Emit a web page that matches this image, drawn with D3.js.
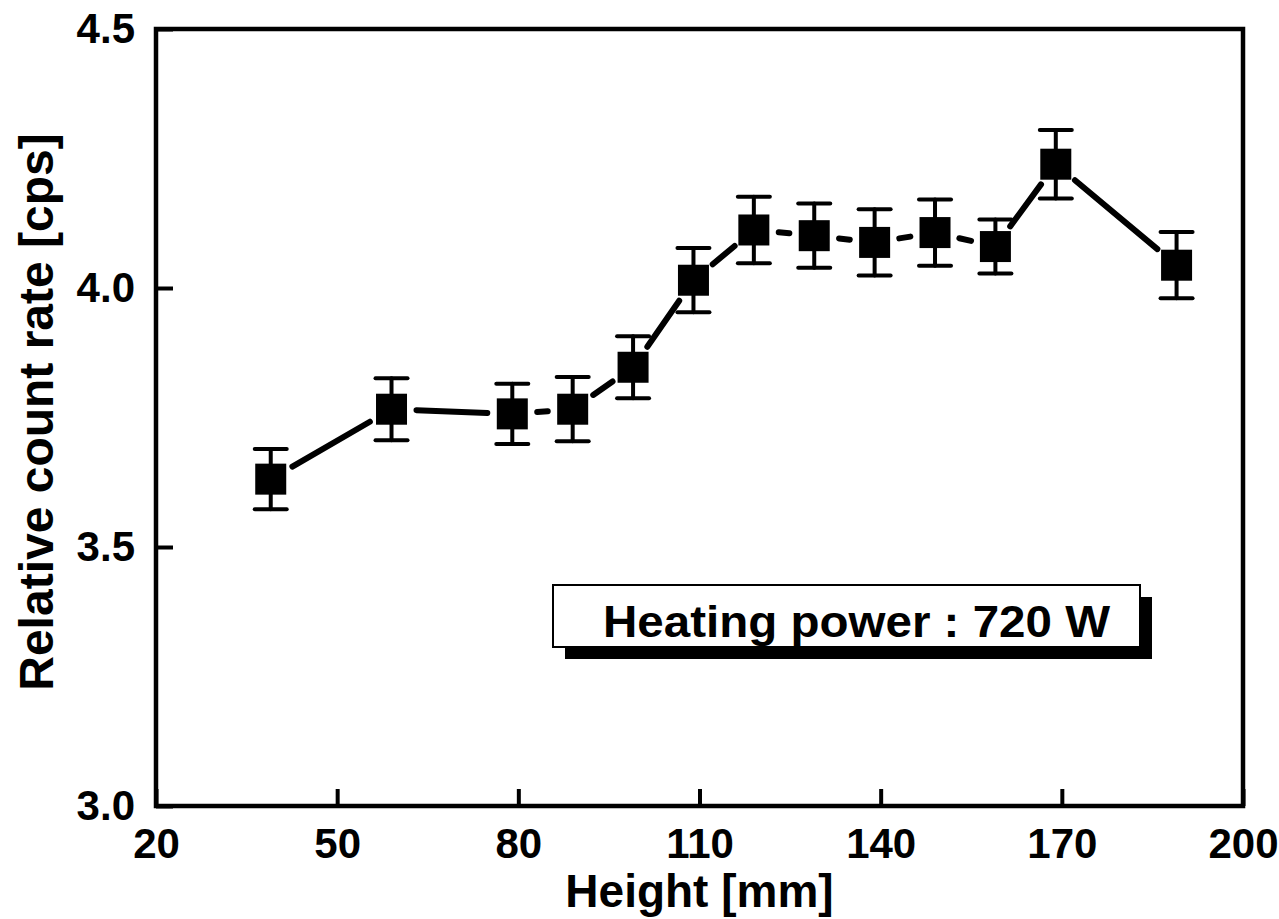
<!DOCTYPE html>
<html>
<head>
<meta charset="utf-8">
<script src="https://cdn.jsdelivr.net/npm/d3@7"></script>
<style>
    body { margin: 0; background: #fff; }
    svg { display: block; }
    text { font-family: "Liberation Sans", Arial, sans-serif; font-weight: bold; fill: #000; }
</style>
</head>
<body>
<svg id="chart" width="1279" height="919"></svg>
<script>
// values
var heights = [39, 59, 79, 89, 99, 109, 119, 129, 139, 149, 159, 169, 189];
var countRates = [3.631, 3.766, 3.757, 3.766, 3.847, 4.015, 4.112, 4.101, 4.088, 4.107, 4.080, 4.239, 4.044];
var countErrors = [0.058, 0.060, 0.058, 0.062, 0.060, 0.062, 0.064, 0.062, 0.064, 0.064, 0.052, 0.066, 0.064];
var xTicks = [20, 50, 80, 110, 140, 170, 200];
var yTicks = [3.0, 3.5, 4.0, 4.5];
var xTitle = "Height [mm]";
var yTitle = "Relative count rate [cps]";
var legendText = "Heating power : 720 W";

var svg = d3.select("#chart");
var plotLeft = 156, plotRight = 1243, plotTop = 29, plotBottom = 806;

var x = d3.scaleLinear().domain([20, 200]).range([plotLeft, plotRight]);
var y = d3.scaleLinear().domain([3.0, 4.5]).range([plotBottom, plotTop]);

var points = heights.map(function(h, i) {
    return {x: h, y: countRates[i], e: countErrors[i]};
});

// axes, ticks pointing inward
var xAxis = d3.axisBottom(x)
    .tickValues(xTicks)
    .tickFormat(d3.format("d"))
    .tickSizeInner(-17)
    .tickSizeOuter(0)
    .tickPadding(22);

var yAxis = d3.axisLeft(y)
    .tickValues(yTicks)
    .tickFormat(d3.format(".1f"))
    .tickSizeInner(-17)
    .tickSizeOuter(0)
    .tickPadding(21);

var gx = svg.append("g").attr("transform", "translate(0," + plotBottom + ")").call(xAxis);
var gy = svg.append("g").attr("transform", "translate(" + plotLeft + ",0)").call(yAxis);

[gx, gy].forEach(function(g) {
    g.attr("font-size", null).attr("font-family", null);
    g.select(".domain").remove();
    g.selectAll(".tick line").attr("stroke", "#000").attr("stroke-width", 4);
    g.selectAll(".tick text")
        .style("font-size", "42px")
        .attr("fill", "#000");
});

// frame
svg.append("rect")
    .attr("x", plotLeft)
    .attr("y", plotTop)
    .attr("width", plotRight - plotLeft)
    .attr("height", plotBottom - plotTop)
    .attr("fill", "none")
    .attr("stroke", "#000")
    .attr("stroke-width", 4.5);

// connecting line, broken around each marker
var gap = 25;
var segs = [];
for (var i = 1; i < points.length; i++) {
    var a = points[i - 1], b = points[i];
    var x1 = x(a.x), y1 = y(a.y), x2 = x(b.x), y2 = y(b.y);
    var len = Math.sqrt((x2 - x1) * (x2 - x1) + (y2 - y1) * (y2 - y1));
    var ux = (x2 - x1) / len, uy = (y2 - y1) / len;
    segs.push({x1: x1 + ux * gap, y1: y1 + uy * gap, x2: x2 - ux * gap, y2: y2 - uy * gap});
}

svg.append("g").selectAll("line")
    .data(segs)
    .enter().append("line")
    .attr("x1", function(d) { return d.x1; })
    .attr("y1", function(d) { return d.y1; })
    .attr("x2", function(d) { return d.x2; })
    .attr("y2", function(d) { return d.y2; })
    .attr("stroke", "#000")
    .attr("stroke-width", 6)
    .attr("stroke-linecap", "round");

// error bars
var err = svg.append("g")
    .attr("stroke", "#000")
    .attr("stroke-width", 4)
    .attr("stroke-linecap", "round");

err.selectAll("line.v")
    .data(points)
    .enter().append("line")
    .attr("class", "v")
    .attr("x1", function(d) { return x(d.x); })
    .attr("x2", function(d) { return x(d.x); })
    .attr("y1", function(d) { return y(d.y - d.e); })
    .attr("y2", function(d) { return y(d.y + d.e); });

var capHalf = 16;
["hi", "lo"].forEach(function(k) {
    err.selectAll("line." + k)
        .data(points)
        .enter().append("line")
        .attr("class", k)
        .attr("x1", function(d) { return x(d.x) - capHalf; })
        .attr("x2", function(d) { return x(d.x) + capHalf; })
        .attr("y1", function(d) { return y(k == "hi" ? d.y + d.e : d.y - d.e); })
        .attr("y2", function(d) { return y(k == "hi" ? d.y + d.e : d.y - d.e); });
});

// square markers
var size = 31;
svg.append("g").selectAll("rect")
    .data(points)
    .enter().append("rect")
    .attr("x", function(d) { return x(d.x) - size / 2; })
    .attr("y", function(d) { return y(d.y) - size / 2; })
    .attr("width", size)
    .attr("height", size)
    .attr("fill", "#000");

// legend box with drop shadow
var lg = svg.append("g");
lg.append("rect")
    .attr("x", 565).attr("y", 597)
    .attr("width", 587).attr("height", 62)
    .attr("fill", "#000");
lg.append("rect")
    .attr("x", 553).attr("y", 585)
    .attr("width", 587).attr("height", 62)
    .attr("fill", "#fff")
    .attr("stroke", "#000")
    .attr("stroke-width", 2);
lg.append("text")
    .attr("x", 603).attr("y", 637)
    .attr("textLength", 507)
    .attr("lengthAdjust", "spacingAndGlyphs")
    .style("font-size", "44px")
    .text(legendText);

// axis titles
svg.append("text")
    .attr("x", (plotLeft + plotRight) / 2).attr("y", 907)
    .attr("text-anchor", "middle")
    .style("font-size", "46px")
    .text(xTitle);

svg.append("text")
    .attr("transform", "translate(53,412) rotate(-90)")
    .attr("text-anchor", "middle")
    .style("font-size", "48px")
    .text(yTitle);
</script>
</body>
</html>
